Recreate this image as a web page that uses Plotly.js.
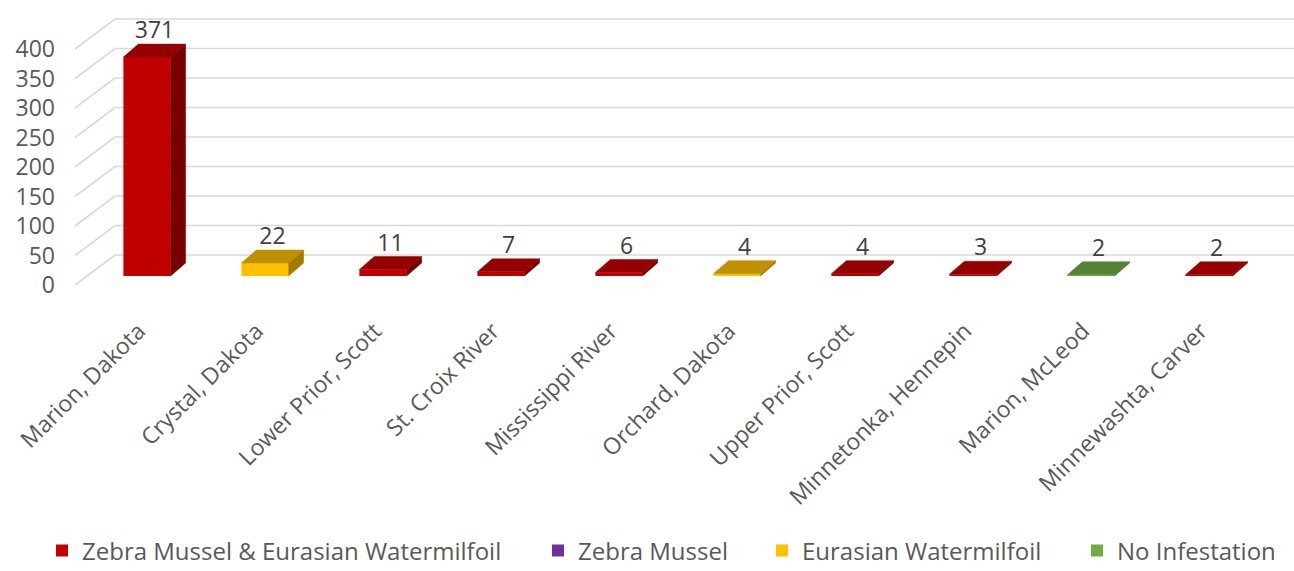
<!DOCTYPE html>
<html><head><meta charset="utf-8">
<script src="https://cdn.plot.ly/plotly-3.0.1.min.js"></script>
<style>html,body{margin:0;padding:0;background:#fff}#chart{width:1294px;height:571px}</style>
</head><body><div id="chart"></div>
<script>
// ---- data ----
const lakes = ['Marion, Dakota','Crystal, Dakota','Lower Prior, Scott','St. Croix River','Mississippi River','Orchard, Dakota','Upper Prior, Scott','Minnetonka, Hennepin','Marion, McLeod','Minnewashta, Carver'];
const counts = [371, 22, 11, 7, 6, 4, 4, 3, 2, 2];
const lakeStatus = [0, 2, 0, 0, 0, 2, 0, 0, 3, 0];
const statusNames = ['Zebra Mussel & Eurasian Watermilfoil','Zebra Mussel','Eurasian Watermilfoil','No Infestation'];
const yTicks = [0, 50, 100, 150, 200, 250, 300, 350, 400];

// ---- style ----
const frontColors = ['#C00000','#7030A0','#FFC000','#70AD47'];
const topColors   = ['#950000','#561F7F','#BF9000','#548235'];
const sideColors  = ['#780000','#44186A','#A37A00','#466F2C'];
const legendLeftPx = [42, 538, 762, 1077];
const LEGEND_Y_PX = 551;
const FONT = '"Open Sans", "Noto Sans", sans-serif';

// geometry (pixels)
const W_PX = 1294, H_PX = 571;
const L = 56, T = 5, B_PX = 312;
const X0_PX = 147, PX_PER_CAT = 118;
const PX_PER_UNIT = 0.59;
const FRONT_ZERO_PX = 285, BAR_ZERO_PX = 276;
const BAR_W = 0.4;
const DX = 15 / PX_PER_CAT, DY = 13 / PX_PER_UNIT;
const BACK_DX_F = (75 - X0_PX) / PX_PER_CAT, BACK_DX_B = (115 - X0_PX) / PX_PER_CAT;
const BACK_DY = 30 / PX_PER_UNIT;

const xRange = [(L - X0_PX) / PX_PER_CAT, (W_PX - X0_PX) / PX_PER_CAT];
const yRange = [-(B_PX - FRONT_ZERO_PX) / PX_PER_UNIT, (FRONT_ZERO_PX - T) / PX_PER_UNIT];
const y2Range = [-(B_PX - BAR_ZERO_PX) / PX_PER_UNIT, (BAR_ZERO_PX - T) / PX_PER_UNIT];

const idx = lakes.map((_, i) => i);
const traces = [];

// side & top faces
idx.forEach(i => {
  const v = counts[i], s = lakeStatus[i];
  const xl = i - BAR_W / 2, xr = i + BAR_W / 2;
  traces.push({type:'scatter', mode:'lines', yaxis:'y2', fill:'toself',
    x:[xr, xr + DX, xr + DX, xr, xr], y:[0, DY, v + DY, v, 0],
    fillcolor: sideColors[s], line:{color: sideColors[s], width:0.5},
    showlegend:false, hoverinfo:'skip'});
  traces.push({type:'scatter', mode:'lines', yaxis:'y2', fill:'toself',
    x:[xl, xr, xr + DX, xl + DX, xl], y:[v, v, v + DY, v + DY, v],
    fillcolor: topColors[s], line:{color: topColors[s], width:0.5},
    showlegend:false, hoverinfo:'skip'});
});

// front faces (one trace per status, each with its own legend)
statusNames.forEach((name, s) => {
  const sel = idx.filter(i => lakeStatus[i] === s);
  traces.push({type:'bar', name: name, yaxis:'y2', showlegend:true,
    legend: s === 0 ? 'legend' : 'legend' + (s + 1),
    x: sel.length ? sel : [null], y: sel.length ? sel.map(i => counts[i]) : [null], width: BAR_W,
    marker:{color: frontColors[s], line:{width:0}}, hoverinfo:'skip'});
});

// data labels
traces.push({type:'scatter', mode:'text', yaxis:'y2', showlegend:false, hoverinfo:'skip',
  x: idx.map(i => i + DX / 2), y: counts.map(v => v + DY),
  text: counts.map(String), textposition:'top center',
  textfont:{family: FONT, size:23, color:'#404040'}, cliponaxis:false});

// back-wall gridlines as shapes from tick values
const shapes = yTicks.map(t => ({
  type:'path', xref:'x', yref:'y', layer:'below',
  path:`M ${BACK_DX_F},${t} L ${BACK_DX_B},${t + BACK_DY} L ${xRange[1]},${t + BACK_DY}`,
  line:{color:'#D9D9D9', width:1.6}
}));

const layout = {
  width: W_PX, height: H_PX,
  margin:{l: L, r: 0, t: T, b: H_PX - B_PX},
  paper_bgcolor:'#fff', plot_bgcolor:'rgba(0,0,0,0)',
  barmode:'overlay', showlegend:true,
  font:{family: FONT, color:'#595959'},
  xaxis:{range: xRange, tickvals: idx.map(i => i - 0.07), ticktext: lakes, tickangle:-45,
    showgrid:false, zeroline:false, showline:false, ticks:'',
    tickfont:{family: FONT, size:23, color:'#595959'}},
  yaxis:{range: yRange, tickvals: yTicks, showgrid:false, zeroline:false, showline:false, ticks:'',
    tickfont:{family: FONT, size:23, color:'#595959'}},
  yaxis2:{range: y2Range, overlaying:'y', visible:false},
  shapes: shapes
};
legendLeftPx.forEach((px, s) => {
  layout[s === 0 ? 'legend' : 'legend' + (s + 1)] = {
    orientation:'h', xref:'container', yref:'container', x: px / W_PX, y: 1 - LEGEND_Y_PX / H_PX,
    xanchor:'left', yanchor:'middle', bgcolor:'rgba(0,0,0,0)',
    font:{family: FONT, size:24, color:'#595959'}, itemwidth:30
  };
});

Plotly.newPlot('chart', traces, layout, {displayModeBar:false, staticPlot:true});
</script>
</body></html>
